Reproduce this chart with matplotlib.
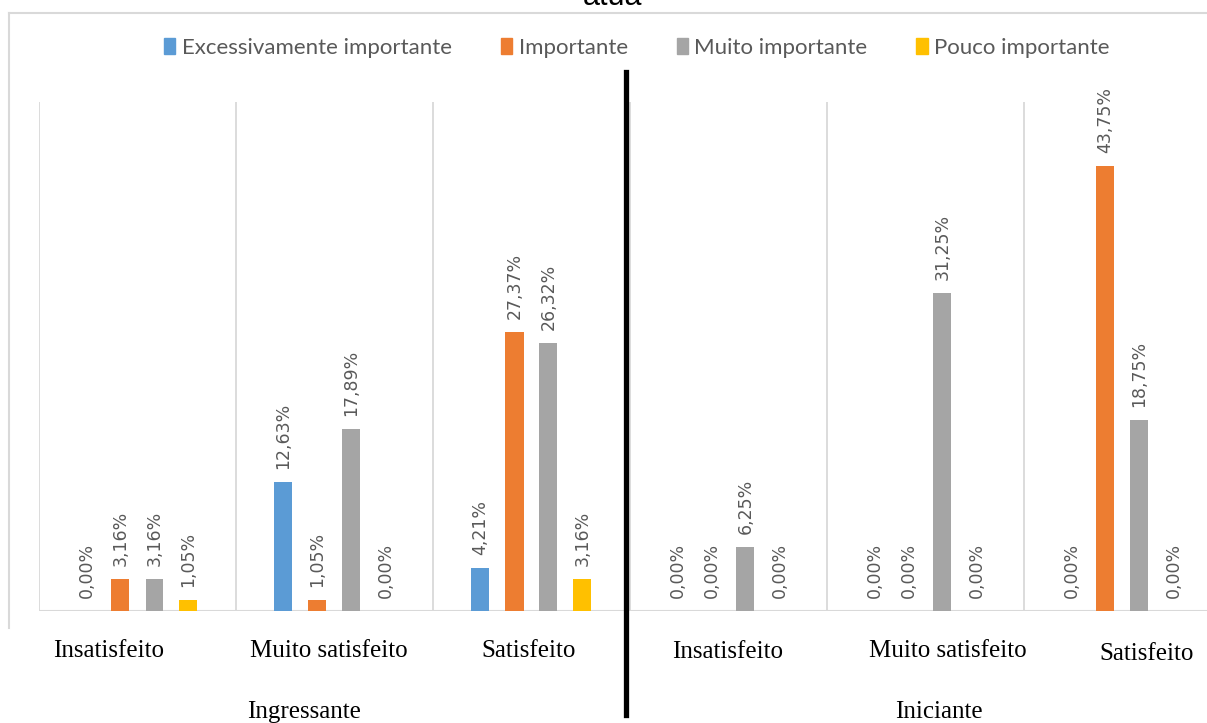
import matplotlib
matplotlib.use("Agg")
import matplotlib.pyplot as plt
from matplotlib.lines import Line2D
import numpy as np

# ---- data ----
series = ["Excessivamente importante", "Importante", "Muito importante", "Pouco importante"]
colors = ["#5B9BD5", "#ED7D31", "#A5A5A5", "#FFC000"]
categories = ["Insatisfeito", "Muito satisfeito", "Satisfeito",
              "Insatisfeito", "Muito satisfeito", "Satisfeito"]
groups = ["Ingressante", "Iniciante"]
excessivamente = [0.00, 12.63, 4.21, 0.00, 0.00, 0.00]
importante = [3.16, 1.05, 27.37, 0.00, 0.00, 43.75]
muito = [3.16, 17.89, 26.32, 6.25, 31.25, 18.75]
pouco = [1.05, 0.00, 3.16, 0.00, 0.00, 0.00]
values = [excessivamente, importante, muito, pouco]

W, H = 1207, 723
fig = plt.figure(figsize=(W / 100, H / 100), dpi=100)

def fx(px):
    return px / W

def fy(py):
    return 1 - py / H

# plot area: left 39px, baseline 611px, top 102px, group width 197px
gw = 197
ax = fig.add_axes([fx(39), fy(611), 6 * gw / W, (611 - 102) / H])
ax.set_xlim(0, 6)
ax.set_ylim(0, 50)

bw = 18 / gw
offsets = np.array([-51, -17, 17, 51]) / gw
x = np.arange(6) + 0.5
for i, (vals, col, name) in enumerate(zip(values, colors, series)):
    ax.bar(x + offsets[i], vals, width=bw, color=col, label=name, zorder=3)
    for xi, v in zip(x + offsets[i], vals):
        lab = f"{v:.2f}%".replace(".", ",")
        ax.annotate(lab, (xi, v), xytext=(0, 9.4), textcoords="offset points",
                    rotation=90, ha="center", va="bottom", color="#595959",
                    fontsize=12.5, family="DejaVu Sans")

for b in range(7):
    ax.axvline(b, color="#D9D9D9", lw=1.3, zorder=1)
for s in ax.spines.values():
    s.set_visible(False)
ax.axhline(0, color="#D9D9D9", lw=1.5, zorder=2)
ax.set_xticks([])
ax.set_yticks([])

# chart area border (left and top visible)
fig.add_artist(Line2D([fx(9), fx(9)], [fy(13), fy(628)], color="#D9D9D9", lw=1.5))
fig.add_artist(Line2D([fx(9), fx(1207)], [fy(13), fy(13)], color="#D9D9D9", lw=1.5))

# title (cut off at top, as in the reference)
fig.text(fx(612), fy(5), "atua", ha="center", va="baseline", fontsize=22,
         family="Liberation Sans", color="#000000")

# legend
handles = [plt.Rectangle((0, 0), 1, 1, color=c) for c in colors]
fig.legend(handles, series, loc="center", bbox_to_anchor=(fx(637), fy(48)),
           ncol=4, frameon=False, prop={"family": "Lato", "size": 16},
           labelcolor="#595959", handlelength=0.5, handleheight=0.75,
           handletextpad=0.3, columnspacing=2.2)

# category labels (serif, manual text boxes)
cat_x = [109, 329, 529, 728, 948, 1147]
cat_y = [657, 657, 657, 658, 657, 660]
for c, cx, cy in zip(categories, cat_x, cat_y):
    fig.text(fx(cx), fy(cy), c, ha="center", va="baseline", fontsize=18,
             family="Liberation Serif", color="#000000")

grp_x = [304, 939]
for g, gx in zip(groups, grp_x):
    fig.text(fx(gx), fy(718), g, ha="center", va="baseline", fontsize=18,
             family="Liberation Serif", color="#000000")

# thick divider line
fig.add_artist(Line2D([fx(626), fx(626)], [fy(72), fy(715)], color="black", lw=3.8))

fig.savefig("out.png", dpi=100)
